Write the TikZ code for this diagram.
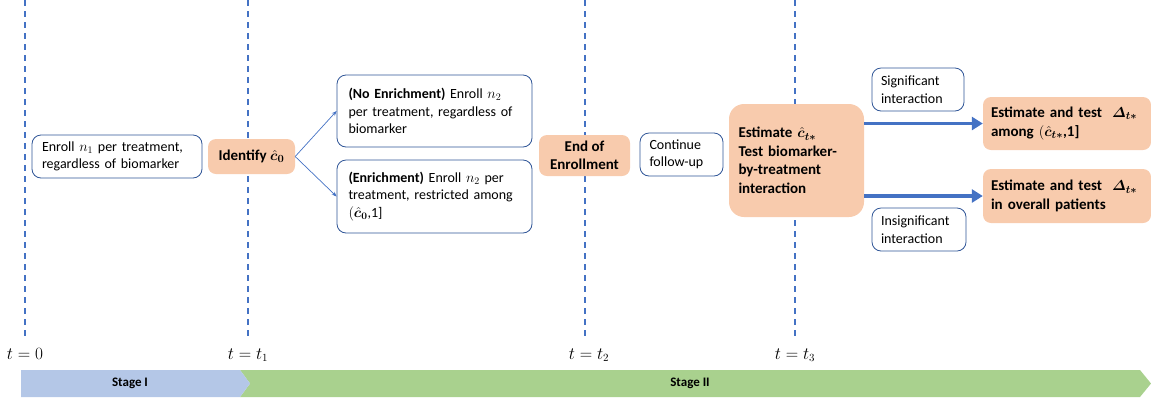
\documentclass[tikz,border=0pt]{standalone}
\usepackage{amsmath}
\usepackage{bm}
\usepackage{fontspec}
\setmainfont{Carlito}
\usetikzlibrary{arrows.meta}
\definecolor{obox}{HTML}{F8CBAD}
\definecolor{bline}{HTML}{2F5597}
\definecolor{dline}{HTML}{4472C4}
\definecolor{sI}{HTML}{B4C7E7}
\definecolor{sII}{HTML}{A9D18E}
\tikzset{
  wbox/.style={draw=bline, line width=0.8pt, fill=white, rounded corners=9pt, align=left,
    inner xsep=0pt, inner ysep=0pt, font=\fontsize{14}{17.5}\selectfont},
  orbox/.style={fill=obox, rounded corners=8pt, align=center, inner sep=0pt,
    font=\bfseries\fontsize{15}{18.5}\selectfont},
  vdash/.style={draw=dline, line width=1.2pt, dash pattern=on 6pt off 5pt},
  thin arrow/.style={draw=dline, line width=0.7pt, -{Stealth[length=5pt,width=4pt]}},
  thick arrow/.style={draw=dline, line width=3.5pt, -{Triangle[length=11pt,width=13pt]}},
  tlab/.style={font=\fontsize{16}{18}\selectfont},
  stagelab/.style={font=\bfseries\fontsize{13}{15}\selectfont}
}
\begin{document}
\begin{tikzpicture}[x=1pt,y=-1pt]
\useasboundingbox (0,0) rectangle (1151,400);
% dashed time lines
\foreach \n/\x in {a/25,b/248,c/585,d/795}{
  \coordinate (top\n) at (\x,0);
  \coordinate (bot\n) at (\x,338);
  \path[vdash] (top\n) -- (bot\n);
}
% time labels
\node[tlab] (t0) at (25,354) {$t=0$};
\node[tlab] (t1) at (248,355) {$t=t_1$};
\node[tlab] (t2) at (589,355) {$t=t_2$};
\node[tlab] (t3) at (795,355) {$t=t_3$};
% stage bar
\fill[sII] (240,370) -- (1140,370) -- (1151,383.5) -- (1140,397) -- (240,397) -- (250,383.5) -- cycle;
\fill[sI] (21,370) -- (240,370) -- (250,383.5) -- (240,397) -- (21,397) -- cycle;
\node[stagelab] (s1) at (130,383.5) {Stage I};
\node[stagelab] (s2) at (690,383.5) {Stage II};
% boxes
\node[wbox, minimum width=170, minimum height=43, text width=150] (enr1) at (117,156.5)
  {Enroll $n_1$ per treatment,\\ regardless of biomarker};
\node[orbox, minimum width=87, minimum height=35] (ident) at (251.5,156.5)
  {Identify $\bm{\hat{c}_0}$};
\node[wbox, minimum width=195, minimum height=72, text width=172] (noenr) at (434.5,111)
  {\textbf{(No Enrichment)} Enroll $n_2$\\ per treatment, regardless of\\ biomarker};
\node[wbox, minimum width=195, minimum height=73, text width=172] (enr) at (434.5,196.5)
  {\textbf{(Enrichment)} Enroll $n_2$ per\\ treatment, restricted among\\ $(\bm{\hat{c}_0}$,1]};
\node[orbox, minimum width=91, minimum height=41] (endenr) at (584.5,155.5)
  {End of\\ Enrollment};
\node[wbox, minimum width=83, minimum height=43, text width=64] (cont) at (681.5,154.5)
  {Continue\\ follow-up};
\node[orbox, rounded corners=15pt, minimum width=135, minimum height=113, text width=116, align=left] (est) at (796.5,160.5)
  {Estimate $\bm{\hat{c}_{t*}}$\\ Test biomarker-\\ by-treatment\\ interaction};
\node[wbox, minimum width=92, minimum height=43, text width=74] (sig) at (918,89.5)
  {Significant\\ interaction};
\node[wbox, minimum width=94, minimum height=43, text width=76] (insig) at (919,229.5)
  {Insignificant\\ interaction};
\node[orbox, minimum width=168, minimum height=53, text width=152, align=left] (r1) at (1067,123.5)
  {Estimate and test\ \ $\bm{\varDelta_{t*}}$\\ among $(\bm{\hat{c}_{t*}}$,1]};
\node[orbox, minimum width=168, minimum height=54, text width=152, align=left] (r2) at (1067,196)
  {Estimate and test\ \ $\bm{\varDelta_{t*}}$\\ in overall patients};
% connectors
\draw[thin arrow] (ident.east) -- (noenr.west);
\draw[thin arrow] (ident.east) -- (enr.west);
\draw[thick arrow] (est.east |- r1.west) -- (r1.west);
\draw[thick arrow] (est.east |- r2.west) -- (r2.west);
\end{tikzpicture}
\end{document}
